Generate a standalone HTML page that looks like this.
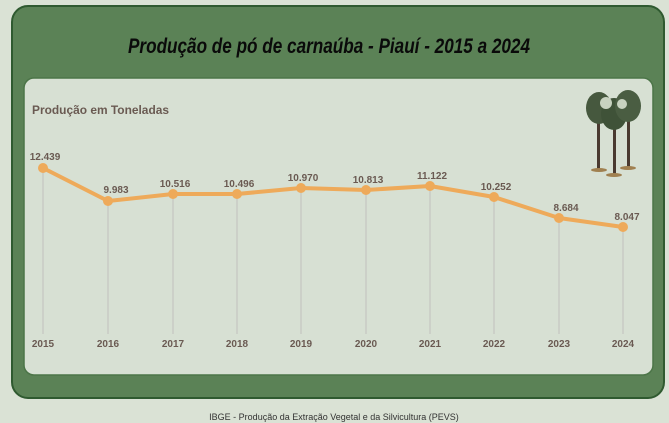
<!DOCTYPE html>
<html><head><meta charset="utf-8"><style>
body{margin:0;width:669px;height:423px;background:#dae2d5;overflow:hidden;font-family:"Liberation Sans",sans-serif}
</style></head><body>
<svg width="669" height="423" xmlns="http://www.w3.org/2000/svg" style="position:absolute;left:0;top:0">
<rect x="12" y="6" width="652" height="392" rx="16" fill="#5b8256" stroke="#2f5a30" stroke-width="2"/>
<rect x="24" y="78" width="629" height="297" rx="10" fill="#d7e0d3" stroke="#4c7548" stroke-width="1.5"/>
<text x="128" y="53" font-size="21" font-weight="bold" font-style="italic" fill="#0a0a0a" textLength="402" lengthAdjust="spacingAndGlyphs">Produção de pó de carnaúba - Piauí - 2015 a 2024</text>
<text x="32" y="114" font-size="12" font-weight="bold" fill="#6a5a52" textLength="137" lengthAdjust="spacingAndGlyphs">Produção em Toneladas</text>
<g stroke="#c0c0bc" stroke-width="1">
<line x1="43" y1="168" x2="43" y2="334"/><line x1="108" y1="201" x2="108" y2="334"/><line x1="173" y1="194" x2="173" y2="334"/><line x1="237" y1="194" x2="237" y2="334"/><line x1="301" y1="188" x2="301" y2="334"/><line x1="366" y1="190" x2="366" y2="334"/><line x1="430" y1="186" x2="430" y2="334"/><line x1="494" y1="197" x2="494" y2="334"/><line x1="559" y1="218" x2="559" y2="334"/><line x1="623" y1="227" x2="623" y2="334"/>
</g>
<polyline points="43,168 108,201 173,194 237,194 301,188 366,190 430,186 494,197 559,218 623,227" fill="none" stroke="#eeaa5a" stroke-width="4" stroke-linejoin="round"/>
<g fill="#eeaa5a">
<circle cx="43" cy="168" r="5"/><circle cx="108" cy="201" r="5"/><circle cx="173" cy="194" r="5"/><circle cx="237" cy="194" r="5"/><circle cx="301" cy="188" r="5"/><circle cx="366" cy="190" r="5"/><circle cx="430" cy="186" r="5"/><circle cx="494" cy="197" r="5"/><circle cx="559" cy="218" r="5"/><circle cx="623" cy="227" r="5"/>
</g>
<g font-size="10" font-weight="bold" fill="#6a5a52" text-anchor="middle">
<text x="45" y="160">12.439</text><text x="116" y="193">9.983</text><text x="175" y="187">10.516</text><text x="239" y="187">10.496</text><text x="303" y="181">10.970</text><text x="368" y="183">10.813</text><text x="432" y="179">11.122</text><text x="496" y="190">10.252</text><text x="566" y="211">8.684</text><text x="627" y="220">8.047</text>
</g>
<g font-size="10" font-weight="bold" fill="#6a5a52" text-anchor="middle">
<text x="43" y="347">2015</text><text x="108" y="347">2016</text><text x="173" y="347">2017</text><text x="237" y="347">2018</text><text x="301" y="347">2019</text><text x="366" y="347">2020</text><text x="430" y="347">2021</text><text x="494" y="347">2022</text><text x="559" y="347">2023</text><text x="623" y="347">2024</text>
</g>
<g>
<rect x="597" y="120" width="3" height="50" fill="#4a3a30"/><rect x="613" y="125" width="3" height="50" fill="#4a3a30"/><rect x="627" y="118" width="3" height="50" fill="#4a3a30"/>
<ellipse cx="599" cy="170" rx="8" ry="2" fill="#a08050"/><ellipse cx="614" cy="175" rx="8" ry="2" fill="#a08050"/><ellipse cx="628" cy="168" rx="8" ry="2" fill="#a08050"/>
<ellipse cx="599" cy="108" rx="13" ry="16" fill="#46583e"/><ellipse cx="614" cy="114" rx="13" ry="16" fill="#3f5238"/><ellipse cx="628" cy="106" rx="13" ry="16" fill="#4a5d42"/>
<ellipse cx="606" cy="103" rx="6" ry="6" fill="#c8d2c0"/><ellipse cx="622" cy="104" rx="5" ry="5" fill="#c8d2c0"/>
</g>
<text x="334" y="420" text-anchor="middle" font-size="9" fill="#333">IBGE - Produção da Extração Vegetal e da Silvicultura (PEVS)</text>
</svg>
</body></html>
